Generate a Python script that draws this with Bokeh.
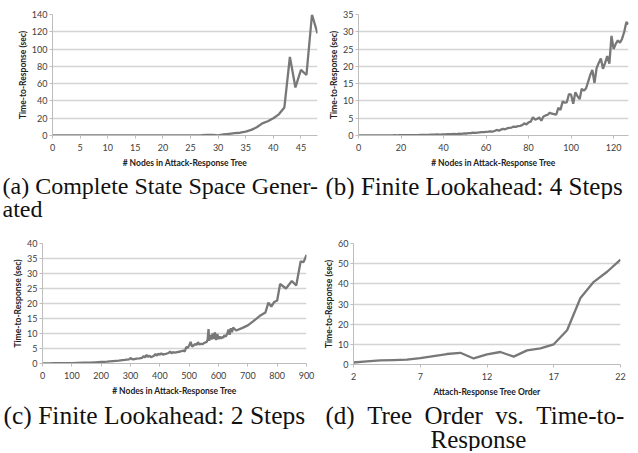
from bokeh.plotting import figure
from bokeh.layouts import column, row
from bokeh.models import Range1d, FixedTicker, Title
from bokeh.embed import file_html
from bokeh.resources import INLINE

# ---------------- data ----------------
# (a) Complete state space generated
a_nodes = list(range(0, 49))
a_time = [0.1, 0.1, 0.1, 0.1, 0.1, 0.1, 0.1, 0.1, 0.1, 0.1,
          0.1, 0.1, 0.1, 0.2, 0.1, 0.1, 0.1, 0.1, 0.1, 0.1,
          0.1, 0.1, 0.1, 0.1, 0.2, 0.2, 0.2, 0.3, 0.8, 0.6,
          0.2, 1.2, 2.0, 2.8, 3.2, 4.5, 6.5, 9.5, 14.0, 16.5,
          20.0, 24.5, 32.5, 91.0, 55.5, 76.0, 70.0, 140.0, 118.0]

# (b) Finite lookahead: 4 steps
b_nodes = list(range(0, 128))
b_time = [0.05, 0.05, 0.05, 0.05, 0.05, 0.05, 0.05, 0.05, 0.05, 0.05,
          0.05, 0.05, 0.05, 0.05, 0.05, 0.05, 0.06, 0.1, 0.06, 0.07,
          0.08, 0.08, 0.09, 0.09, 0.1, 0.1, 0.11, 0.12, 0.13, 0.14,
          0.15, 0.17, 0.2, 0.18, 0.22, 0.25, 0.23, 0.3, 0.28, 0.3,
          0.35, 0.3, 0.38, 0.4, 0.36, 0.45, 0.38, 0.5, 0.48, 0.55,
          0.6, 0.58, 0.7, 0.72, 0.8, 0.78, 0.85, 0.9, 0.95, 1.0,
          1.05, 1.1, 1.2, 1.15, 1.3, 1.6, 1.4, 1.7, 1.9, 1.8,
          2.1, 2.2, 2.3, 2.6, 2.5, 2.7, 2.8, 3.0, 3.5, 3.2,
          3.8, 4.0, 5.3, 4.6, 4.8, 5.2, 4.3, 5.5, 5.8, 6.0,
          6.6, 6.3, 6.2, 6.0, 8.0, 7.4, 9.8, 9.5, 9.6, 12.0,
          11.8, 9.2, 12.5, 11.4, 10.5, 13.5, 13.0, 13.6, 15.5, 17.5,
          19.0, 15.2, 19.5, 21.0, 22.3, 19.3, 21.0, 23.0, 20.8, 28.8,
          25.0, 26.5, 27.5, 26.8, 28.0, 30.0, 32.8, 32.2]

# (c) Finite lookahead: 2 steps
c_nodes = [0, 20, 40, 60, 80, 100, 120, 140, 160, 180, 200, 220, 240, 260, 280,
           295, 300, 305, 310, 320, 330, 340, 345, 350, 355, 360, 365, 370, 380,
           385, 390, 395, 400, 405, 410, 420, 430, 435, 440, 445, 450, 460, 470,
           480, 485, 490, 495, 500, 505, 510, 515, 520, 525, 530, 535, 540, 545,
           550, 555, 560, 563, 566, 568, 572, 576, 580, 584, 588, 592, 596, 600,
           604, 608, 612, 616, 620, 625, 630, 634, 638, 642, 646, 650, 660, 680,
           700, 720, 740, 760, 770, 780, 790, 800, 810, 830, 850, 865, 880, 890, 900]
c_time = [0.05, 0.05, 0.08, 0.1, 0.12, 0.15, 0.2, 0.25, 0.3, 0.4, 0.5, 0.6, 0.8, 0.95, 1.2,
          1.4, 1.8, 1.5, 1.4, 1.6, 1.7, 1.9, 2.5, 2.0, 2.9, 2.2, 2.6, 2.1, 2.6,
          3.2, 2.6, 3.3, 2.9, 3.4, 3.0, 3.2, 3.5, 4.0, 3.4, 3.8, 3.6, 3.8, 4.0,
          4.3, 4.0, 5.5, 5.2, 6.0, 7.2, 5.6, 6.0, 6.5, 6.2, 7.1, 6.3, 6.6, 6.4,
          6.8, 7.0, 7.2, 8.0, 11.5, 7.6, 9.5, 8.0, 10.0, 8.2, 10.4, 7.8, 9.8, 8.2,
          9.0, 8.3, 8.8, 8.6, 9.4, 9.0, 10.0, 11.3, 9.6, 11.8, 10.4, 12.0, 11.0, 11.8,
          12.7, 14.2, 15.8, 17.0, 20.3, 19.0, 20.5, 21.0, 26.5, 25.0, 27.5, 26.0, 34.0, 33.8, 36.2]

# (d) Tree order vs. time-to-response
d_order = list(range(2, 23))
d_time = [1.0, 1.5, 2.0, 2.2, 2.4, 3.2, 4.2, 5.2, 5.8, 3.0, 5.0,
          6.2, 3.9, 7.0, 8.0, 10.0, 17.0, 33.0, 41.0, 46.0, 52.0]

x_title_nodes = "# Nodes in Attack-Response Tree"
x_title_order = "Attach-Response Tree Order"
y_title = "Time-to-Response (sec)"
cap_a = ["(a) Complete State Space Gener-\nated"]
cap_b = ["(b) Finite Lookahead: 4 Steps"]
cap_c = ["(c) Finite Lookahead: 2 Steps"]
cap_d = ["(d) \u00a0Tree \u00a0Order \u00a0vs. \u00a0Time-to-", "Response"]

LINE = "#787878"
GRID = "#d4d4d4"
AXIS = "#bdbdbd"
TICKTXT = "#404040"
SANS = "Lato"
SERIF = "Liberation Serif"


def panel(x, y, xr, yr, xt, yt, xlabel, caps, fw, fh, left, right, top, bottom,
          cap_size, cap_offsets):
    p = figure(frame_width=fw, frame_height=fh,
               x_range=Range1d(*xr), y_range=Range1d(*yr),
               output_backend="svg", toolbar_location=None,
               min_border_left=left, min_border_right=right,
               min_border_top=top, min_border_bottom=bottom)
    p.line(x, y, line_color=LINE, line_width=2.3)
    p.outline_line_color = None
    p.xgrid.visible = False
    p.ygrid.grid_line_color = GRID
    p.ygrid.grid_line_width = 1.3
    p.xaxis.ticker = FixedTicker(ticks=xt)
    p.yaxis.ticker = FixedTicker(ticks=yt)
    for ax in (p.xaxis, p.yaxis):
        ax.axis_line_color = AXIS
        ax.major_tick_line_color = AXIS
        ax.major_tick_in = 0
        ax.major_tick_out = 3
        ax.minor_tick_line_color = None
        ax.major_label_text_font = SANS
        ax.major_label_text_font_size = "9px"
        ax.major_label_text_color = TICKTXT
        ax.axis_label_text_font = SANS
        ax.axis_label_text_font_size = "8.5px"
        ax.axis_label_text_font_style = "bold"
        ax.axis_label_text_color = "#222222"
    p.xaxis.axis_label = xlabel
    p.yaxis.axis_label = y_title
    p.xaxis.major_label_standoff = 5
    p.xaxis.axis_label_standoff = 4
    p.yaxis.major_label_standoff = 2
    p.yaxis.axis_label_standoff = 1
    for i, (text, off) in enumerate(zip(caps, cap_offsets)):
        p.add_layout(Title(text=text, text_font=SERIF, text_font_size=cap_size,
                           text_font_style="normal", text_color="#111111",
                           text_line_height=0.92,
                           align="left", offset=off, standoff=(0 if i == 0 else -10)), "below")
    return p


pa = panel(a_nodes, a_time, (0, 48), (0, 140), list(range(0, 50, 5)), list(range(0, 141, 20)),
           x_title_nodes, cap_a, 265, 121, 52, 2, 14, 0, "24px", [-50])
pb = panel(b_nodes, b_time, (0, 127), (0, 35), list(range(0, 121, 20)), list(range(0, 36, 5)),
           x_title_nodes, cap_b, 270, 121, 39, 8, 14, 0, "25px", [-33])
pc = panel(c_nodes, c_time, (0, 900), (0, 40), list(range(0, 901, 100)), list(range(0, 41, 5)),
           x_title_nodes, cap_c, 264, 120, 42, 13, 21, 0, "25.5px", [-39])
pd_ = panel(d_order, d_time, (2, 22), (0, 60), [2, 7, 12, 17, 22], list(range(0, 61, 10)),
            x_title_order, cap_d, 267, 121, 34, 16, 20, 88, "25px", [-28, 77])

layout = column(row(pa, pb), row(pc, pd_))
open("out.html", "w").write(file_html(layout, INLINE))
